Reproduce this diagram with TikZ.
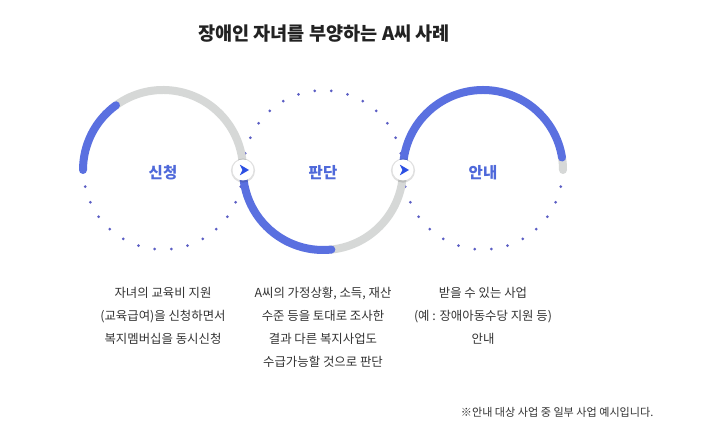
\documentclass[tikz,border=0pt]{standalone}
\usepackage{fontspec}
\setmainfont{Noto Sans CJK KR}
\usetikzlibrary{calc, shadows}
\definecolor{ringblue}{HTML}{5A70E0}
\definecolor{ringgray}{HTML}{D6D8D7}
\definecolor{ringdot}{HTML}{5B5EC4}
\definecolor{arrowblue}{HTML}{2B4FE3}
\definecolor{labelblue}{HTML}{4F69DA}
\definecolor{bodytext}{HTML}{333333}
\definecolor{titletext}{HTML}{222222}

\begin{document}
\begin{tikzpicture}[x=1pt, y=1pt,
  bluearc/.style={draw=ringblue, line width=8pt, line cap=round},
  grayarc/.style={draw=ringgray, line width=8pt, line cap=round},
  dotmark/.style={fill=ringdot},
  steplabel/.style={font=\fontsize{15.5}{18}\selectfont\bfseries, text=labelblue},
  stepdesc/.style={align=center, anchor=north, inner sep=0pt, font=\fontsize{12.4}{23}\selectfont, text=bodytext},
  marker/.style={circle, fill=white, minimum size=21pt, inner sep=0pt,
    drop shadow={shadow xshift=0pt, shadow yshift=-0.5pt, shadow scale=1.15, opacity=0.12, fill=black}}
]
\useasboundingbox (0,0) rectangle (705,438);
\fill[white] (0,0) rectangle (705,438);

% ring centres
\coordinate (c1) at (163,268);
\coordinate (c2) at (323,268);
\coordinate (c3) at (483,268);

% dotted halves
\foreach \a in {192,204,...,348} {
  \fill[dotmark] ($(c1)+(\a:79.5)$) circle[radius=1.5pt];
  \fill[dotmark] ($(c3)+(\a:79.5)$) circle[radius=1.5pt];
}
\foreach \a in {12,24,...,168}
  \fill[dotmark] ($(c2)+(\a:79.5)$) circle[radius=1.5pt];

% rings
\draw[grayarc] ($(c1)+(126:80)$) arc[start angle=126, end angle=0, radius=80pt];
\draw[bluearc] ($(c1)+(180:80)$) arc[start angle=180, end angle=126, radius=80pt];
\draw[grayarc] ($(c2)+(276:80)$) arc[start angle=276, end angle=360, radius=80pt];
\draw[bluearc] ($(c2)+(180:80)$) arc[start angle=180, end angle=276, radius=80pt];
\draw[grayarc] ($(c3)+(9:80)$) arc[start angle=9, end angle=0, radius=80pt];
\draw[bluearc] ($(c3)+(180:80)$) arc[start angle=180, end angle=9, radius=80pt];

% step markers
\foreach \x/\n in {243/m1, 403/m2} {
  \node[marker] (\n) at (\x,268) {};
  \fill[arrowblue, shift={(\n)}] (-3.2,5.4) -- (6,0) -- (-3.2,-5.4) -- (-0.6,0) -- cycle;
}

% labels
\node[steplabel, yshift=-3pt] (apply) at (c1) {신청};
\node[steplabel, yshift=-3pt] (judge) at (c2) {판단};
\node[steplabel, yshift=-3pt] (guide) at (c3) {안내};

\node[font=\fontsize{18.6}{22}\selectfont\bfseries, text=titletext] (title) at (324,404) {장애인 자녀를 부양하는 A씨 사례};

\node[stepdesc] (applytext) at (163,151) {자녀의 교육비 지원\\(교육급여)을 신청하면서\\복지멤버십을 동시신청};
\node[stepdesc] (judgetext) at (323,151) {A씨의 가정상황, 소득, 재산\\수준 등을 토대로 조사한\\결과 다른 복지사업도\\수급가능할 것으로 판단};
\node[stepdesc] (guidetext) at (483,151) {받을 수 있는 사업\\(예 : 장애아동수당 지원 등)\\안내};

\node[anchor=east, font=\fontsize{11.1}{13}\selectfont, text=bodytext] (note) at (657,26) {※안내 대상 사업 중 일부 사업 예시입니다.};
\end{tikzpicture}
\end{document}
